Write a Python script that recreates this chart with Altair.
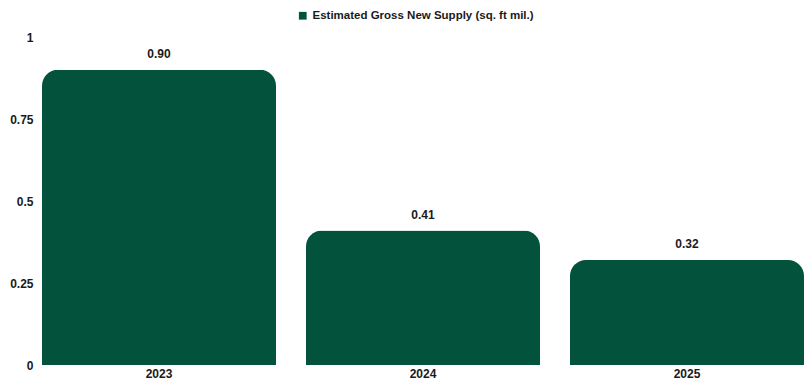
import altair as alt
import pandas as pd

years = ["2023", "2024", "2025"]
values = [0.90, 0.41, 0.32]
labels = ["0.90", "0.41", "0.32"]
series_name = "Estimated Gross New Supply (sq. ft mil.)"

df = pd.DataFrame({
    "year": years,
    "value": values,
    "label": labels,
    "series": [series_name] * len(years),
})

GREEN = "#03523B"
FONT = "Liberation Sans"
TEXT = "#1a1a1a"

base = alt.Chart(df)

bars = base.mark_bar(cornerRadiusTopLeft=16, cornerRadiusTopRight=16).encode(
    x=alt.X("year:N", sort=years, title=None,
            scale=alt.Scale(paddingInner=0.1136, paddingOuter=0),
            axis=alt.Axis(labelAngle=0, ticks=False, domain=False, labelPadding=3,
                          labelFont=FONT, labelFontWeight="bold", labelFontSize=12,
                          labelColor=TEXT)),
    y=alt.Y("value:Q", title=None,
            scale=alt.Scale(domain=[0, 1]),
            axis=alt.Axis(values=[0, 0.25, 0.5, 0.75, 1], format=".2~f", grid=False,
                          ticks=False, domain=False, labelPadding=9,
                          labelFont=FONT, labelFontWeight="bold", labelFontSize=12,
                          labelColor=TEXT)),
    color=alt.Color("series:N", title=None,
                    scale=alt.Scale(domain=[series_name], range=[GREEN]),
                    legend=alt.Legend(orient="none", legendX=255, legendY=-27,
                                      direction="horizontal", symbolType="square",
                                      symbolSize=60, symbolStrokeWidth=0,
                                      labelFont=FONT, labelFontWeight="bold",
                                      labelFontSize=11.5, labelColor=TEXT,
                                      labelLimit=400)),
)

text = base.mark_text(dy=-16, font=FONT, fontWeight="bold", fontSize=12, color=TEXT).encode(
    x=alt.X("year:N", sort=years),
    y="value:Q",
    text="label:N",
)

chart = (bars + text).properties(
    width=762, height=328,
    autosize=alt.AutoSizeParams(type="none"),
    padding={"left": 34, "top": 29, "right": 0, "bottom": 15},
).configure_view(stroke=None)

chart.save("out.html", embed_options={"renderer": "svg", "actions": False})
